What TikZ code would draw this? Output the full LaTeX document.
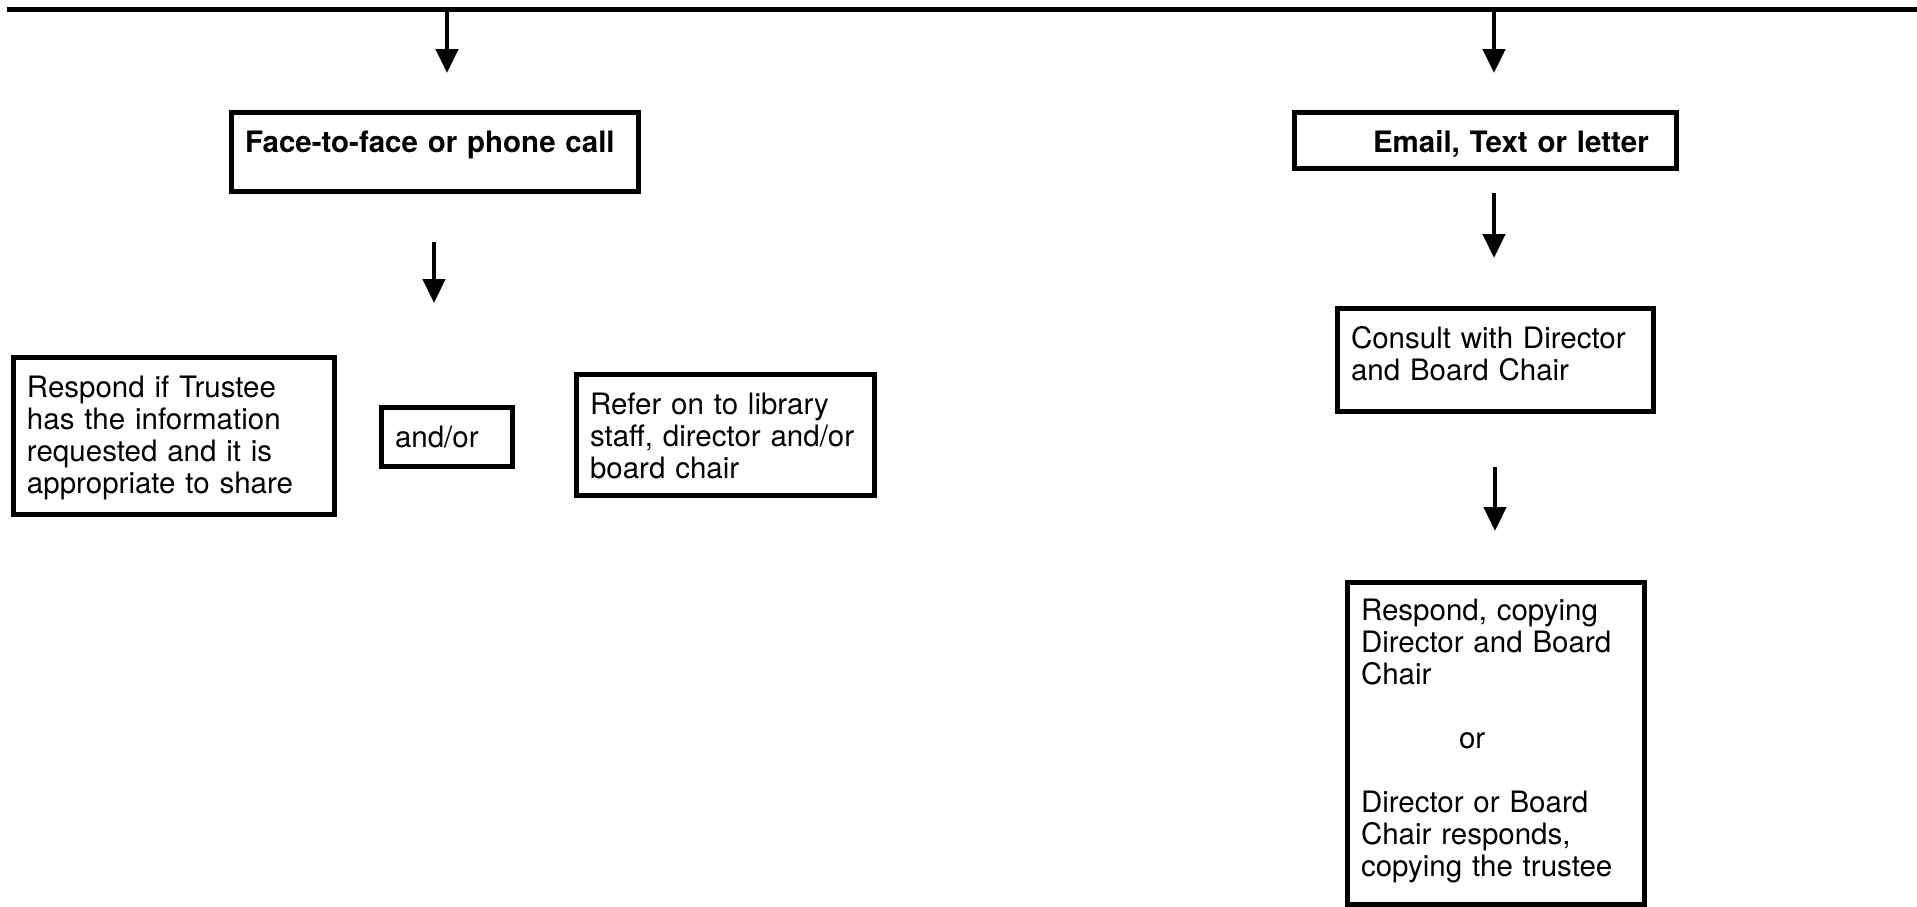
\documentclass[tikz,border=0pt]{standalone}
\usepackage{fontspec}
\setmainfont{TeX Gyre Heros}
\usetikzlibrary{arrows.meta}

\begin{document}
\begin{tikzpicture}[x=1pt,y=-1pt,
    box/.style={draw=black, line width=5pt, inner xsep=14pt, inner ysep=0pt, outer sep=0pt,
        anchor=north west, align=left, text height=40pt, font=\fontsize{29.5}{32}\selectfont},
    flow/.style={line width=4.5pt, -{Triangle[width=22pt,length=24pt]}}]
            \useasboundingbox (0,0) rectangle (1917,906);
            % bar along the top
            \coordinate (barL) at (7,9);
            \coordinate (barR) at (1917,9);
            \draw [line width=5pt] (barL) -- (barR);
            \coordinate (leftTop) at (447,9);
            \coordinate (leftTip) at (447,73);
            \coordinate (rightTop) at (1494,9);
            \coordinate (rightTip) at (1494,73);
            \draw [flow] (leftTop) -- (leftTip);
            \draw [flow] (rightTop) -- (rightTip);
            % spoken
            \node [box, text width=379pt, text depth=39pt] (face) at (231,112) {\textbf{Face-to-face or phone call}};
            \coordinate (faceA) at (434,242);
            \coordinate (faceB) at (434,303);
            \draw [flow] (faceA) -- (faceB);
            \node [box, text width=293pt, text depth=117pt] (answer) at (13,357) {Respond if Trustee\\has the information\\requested and it is\\appropriate to share};
            \node [box, text width=103pt, text depth=19pt] (andor) at (381,407) {and/or};
            \node [box, text width=270pt, text depth=81pt] (refer) at (576,374) {Refer on to library\\staff, director and/or\\board chair};
            % written
            \node [box, text width=354pt, text depth=16pt] (written) at (1294,112) {\hspace*{65pt}\textbf{Email, Text or letter}};
            \coordinate (writtenA) at (1494,193);
            \coordinate (writtenB) at (1494,258);
            \draw [flow] (writtenA) -- (writtenB);
            \node [box, text width=288pt, text depth=63pt] (consult) at (1337,308) {Consult with Director\\and Board Chair};
            \coordinate (consultA) at (1495,467);
            \coordinate (consultB) at (1495,531);
            \draw [flow] (consultA) -- (consultB);
            \node [box, text width=269pt, text height=38pt, text depth=284pt] (reply) at (1347,582) {Respond, copying\\Director and Board\\Chair\\[32pt]\hspace*{98pt}or\\[32pt]Director or Board\\Chair responds,\\copying the trustee};
        \end{tikzpicture}
\end{document}
